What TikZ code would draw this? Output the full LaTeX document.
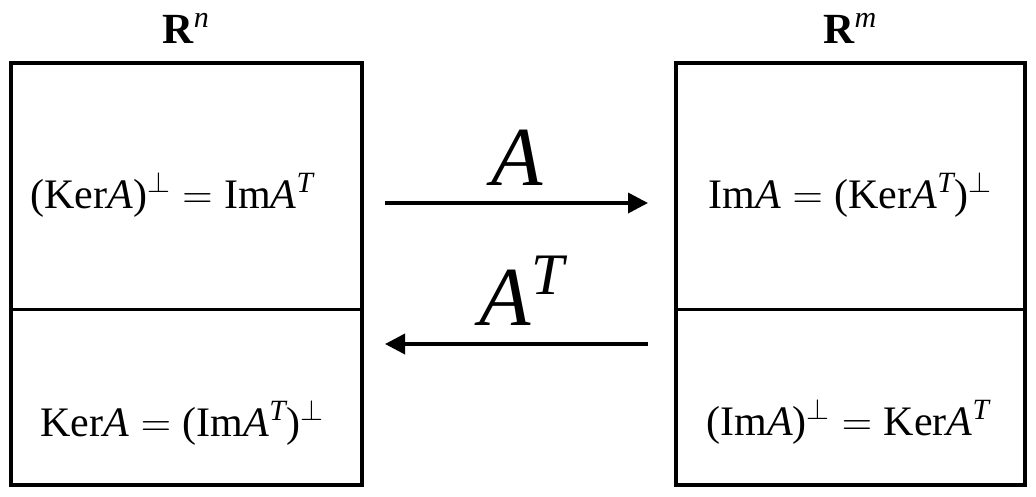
\RequirePackage{fix-cm}
\documentclass[tikz,border=0pt]{standalone}
\usepackage{amsmath}
\usepackage{fontspec}
\setmainfont{Liberation Serif}
\usetikzlibrary{arrows.meta}
\tikzset{
  boxline/.style={line width=4pt, line join=miter},
  divline/.style={line width=3.2pt},
  cell/.style={anchor=base, inner sep=0pt, font=\fontsize{42}{48}\selectfont},
  space/.style={anchor=base, inner sep=0pt, font=\fontsize{43}{48}\selectfont},
  maplabel/.style={anchor=base, inner sep=0pt, font=\fontsize{84}{96}\selectfont},
  maparrow/.style={line width=3.6pt, -{Triangle[length=20pt,width=20pt]}}
}
\newcommand{\ia}{\textit{A}}
\newcommand{\eqs}{${}={}$}
\begin{document}
\begin{tikzpicture}[x=1pt,y=-1pt]
\useasboundingbox (0,0) rectangle (1036,496);
% left box
\draw[boxline] (11,63) rectangle (362,485);
\draw[divline] (11,309.5) -- (362,309.5);
% right box
\draw[boxline] (676,63) rectangle (1025,485);
\draw[divline] (676,309.5) -- (1025,309.5);
% space labels
\node[space] (rn) at (186,43) {\textbf{R}$^{\textit{n}}$};
\node[space] (rm) at (850,43) {\textbf{R}$^{\textit{m}}$};
% cell texts
\node[cell] (lt) at (172,208) {(Ker\ia)$^{\perp}$\eqs Im\ia$^{\textit{T}}$};
\node[cell] (lb) at (182,436) {Ker\ia\eqs(Im\ia$^{\textit{T}}$)$^{\perp}$};
\node[cell] (rt) at (850,208) {Im\ia\eqs(Ker\ia$^{\textit{T}}$)$^{\perp}$};
\node[cell] (rb) at (848,435) {(Im\ia)$^{\perp}$\eqs Ker\ia$^{\textit{T}}$};
% arrows
\coordinate (a1s) at (385,203);
\coordinate (a1e) at (648,203);
\coordinate (a2s) at (648,344);
\coordinate (a2e) at (385,344);
\draw[maparrow] (a1s) -- (a1e);
\draw[maparrow] (a2s) -- (a2e);
\node[maplabel] (la) at (517,185) {\ia};
\node[maplabel] (lat) at (522,325) {\ia$^{\textit{T}}$};
\end{tikzpicture}
\end{document}
